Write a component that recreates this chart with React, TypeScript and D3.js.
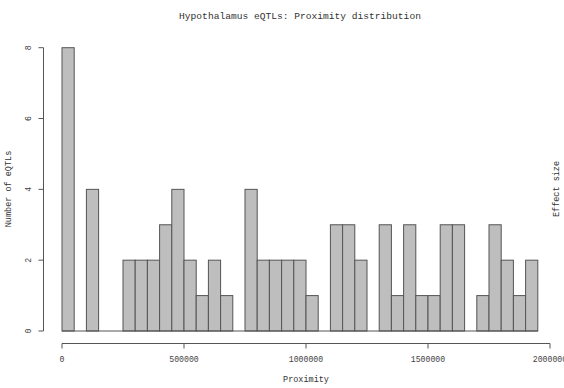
import React from "react";
import * as d3 from "d3";

const title = "Hypothalamus eQTLs: Proximity distribution";
const xLabel = "Proximity";
const yLabel = "Number of eQTLs";
const rightLabel = "Effect size";
const binWidth = 50000;
const counts = [8, 0, 4, 0, 0, 2, 2, 2, 3, 4, 2, 1, 2, 1, 0, 4, 2, 2, 2, 2, 1, 0, 3, 3, 2, 0, 3, 1, 3, 1, 1, 3, 3, 0, 1, 3, 2, 1, 2];
const xTicks = [0, 500000, 1000000, 1500000, 2000000];
const yTicks = [0, 2, 4, 6, 8];

const W = 564;
const H = 388;
const FONT = "'Courier New', 'Liberation Mono', 'DejaVu Sans Mono', monospace";

export default function App() {
  const x = d3.scaleLinear().domain([0, 2000000]).range([62, 550]);
  const y = d3.scaleLinear().domain([0, 8]).range([331, 47.7]);
  const bins = counts.map((c, i) => ({ x0: i * binWidth, x1: (i + 1) * binWidth, c }));
  const axisY = 343.5;
  const axisX = 43.5;
  const axisColor = "#555";
  return (
    <svg width={W} height={H} style={{ position: "absolute", left: 0, top: 0, background: "#fff" }}>
      <text x={300} y={19} textAnchor="middle" fontFamily={FONT} fontSize={9.6} fill="#333">
        {title}
      </text>
      {bins.map((b, i) =>
        b.c > 0 ? (
          <rect
            key={i}
            x={x(b.x0)}
            y={y(b.c)}
            width={x(b.x1) - x(b.x0)}
            height={y(0) - y(b.c)}
            fill="#bebebe"
            stroke="#555"
            strokeWidth={1}
          />
        ) : null
      )}
      <line x1={x(0)} x2={x(0) + (x(binWidth * counts.length) - x(0))} y1={y(0)} y2={y(0)} stroke="#555" strokeWidth={1} />
      {/* x axis */}
      <line x1={x(0)} x2={x(2000000)} y1={axisY} y2={axisY} stroke={axisColor} strokeWidth={1} />
      {xTicks.map((t) => (
        <g key={t}>
          <line x1={x(t)} x2={x(t)} y1={axisY} y2={axisY + 5} stroke={axisColor} strokeWidth={1} />
          <text x={x(t)} y={362} textAnchor="middle" fontFamily={FONT} fontSize={8.2} fill="#444">
            {t}
          </text>
        </g>
      ))}
      {/* y axis */}
      <line x1={axisX} x2={axisX} y1={y(0)} y2={y(8)} stroke={axisColor} strokeWidth={1} />
      {yTicks.map((t) => (
        <g key={t}>
          <line x1={axisX - 5} x2={axisX} y1={y(t)} y2={y(t)} stroke={axisColor} strokeWidth={1} />
          <text
            transform={`translate(31,${y(t)}) rotate(-90)`}
            textAnchor="middle"
            fontFamily={FONT}
            fontSize={8.2}
            fill="#444"
          >
            {t}
          </text>
        </g>
      ))}
      <text x={306} y={382} textAnchor="middle" fontFamily={FONT} fontSize={8.5} fill="#333">
        {xLabel}
      </text>
      <text transform={`translate(11,${189}) rotate(-90)`} textAnchor="middle" fontFamily={FONT} fontSize={8.5} fill="#333">
        {yLabel}
      </text>
      <text transform={`translate(559,${189}) rotate(-90)`} textAnchor="middle" fontFamily={FONT} fontSize={8.5} fill="#333">
        {rightLabel}
      </text>
    </svg>
  );
}
